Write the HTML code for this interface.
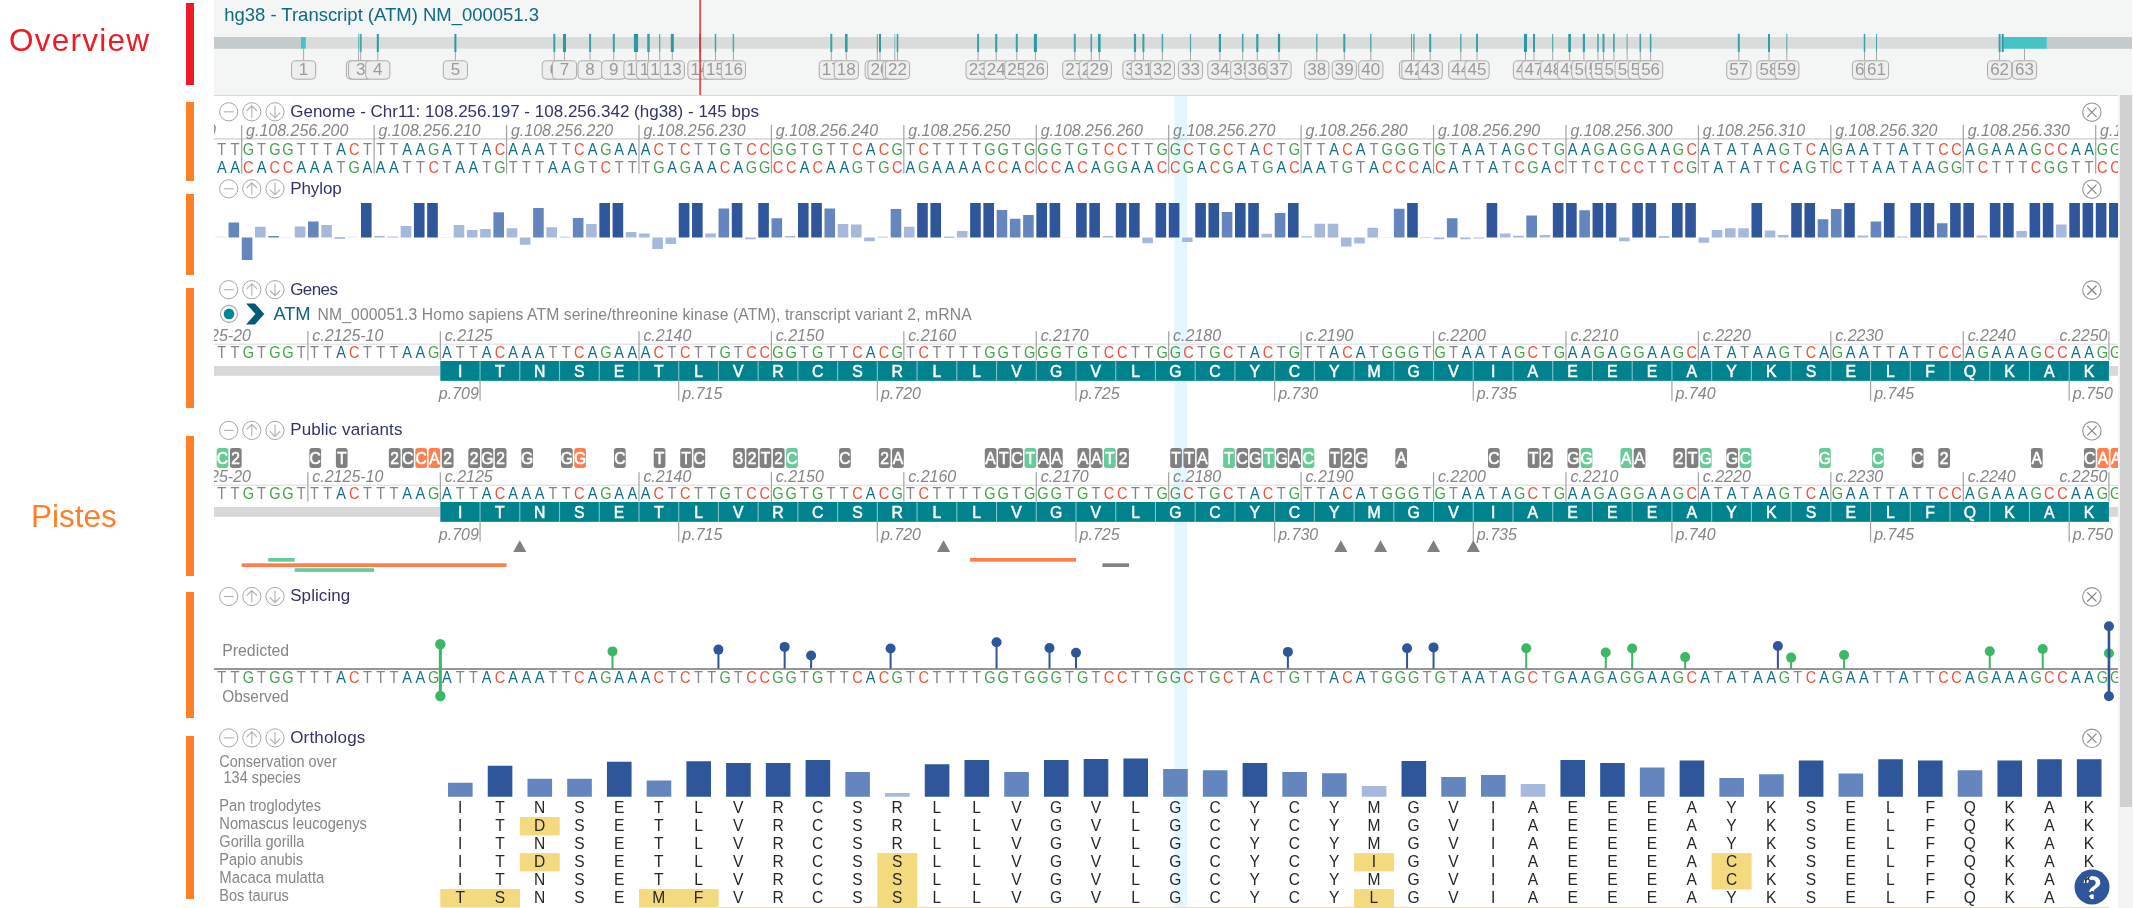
<!DOCTYPE html>
<html lang="en"><head><meta charset="utf-8"><title>Genome browser - ATM NM_000051.3</title>
<style>
html,body{margin:0;padding:0;background:#fff;}
body{width:2133px;height:908px;overflow:hidden;position:relative;font-family:"Liberation Sans",sans-serif;}
#left{position:absolute;left:0;top:0;width:214px;height:908px;background:#fff;}
#left .lab{position:absolute;font-size:31.5px;line-height:1;white-space:nowrap;will-change:transform;}
#left .bar{position:absolute;left:186.2px;width:7.7px;}
#ov{position:absolute;left:214px;top:0;width:1918px;height:95.5px;background:#f4f6f6;overflow:hidden;}
#ovb{position:absolute;left:214px;top:95px;width:1905px;height:1px;background:#d6d9d9;}
#tracks{position:absolute;left:214px;top:96px;width:1904.4px;height:812px;background:#fff;overflow:hidden;}
#sb{position:absolute;left:2118.4px;top:95px;width:14.6px;height:813px;background:#f4f4f4;}
#sb i{position:absolute;left:1.6px;top:0;width:11.9px;height:712.2px;background:#d1d1d1;display:block;}
svg{position:absolute;left:0;top:0;overflow:hidden;will-change:transform;}
svg text{font-family:"Liberation Sans",sans-serif;}
.nt{font-size:16.2px;text-anchor:middle;}
.bA{fill:#106e84;}.bC{fill:#f0523a;}.bG{fill:#43a24a;}.bT{fill:#848484;}
.tt{font-size:17px;fill:#33336b;}
.rl{font-size:16px;font-style:italic;fill:#858585;}
.ic circle{fill:#fff;stroke:#a6a6a6;stroke-width:1;}
.ic path{fill:none;stroke:#b0b0b0;stroke-width:1.1;}
.cl circle{stroke:#959595;stroke-width:1.15;}.cl path{stroke:#858585;stroke-width:1.2;}
.aa{font-size:15.8px;fill:#fff;stroke:#fff;stroke-width:.5px;text-anchor:middle;}
.vb{font-size:17px;fill:#fff;stroke:#fff;stroke-width:.6px;text-anchor:middle;}
.gl{font-size:17px;fill:#858585;}
.sm{font-size:15.6px;fill:#858585;}
.oa{font-size:15.6px;fill:#262626;text-anchor:middle;}
.ex{font-size:17px;fill:#9a9a9a;text-anchor:middle;}
.exb{fill:#eeeeee;stroke:#aaaaaa;stroke-width:1;}
</style></head><body>
<div id="left">
<div class="lab" style="left:9px;top:24.5px;color:#ed1c24;letter-spacing:1.25px;">Overview</div>
<div class="lab" style="left:31px;top:500.5px;color:#ff7f27;">Pistes</div>
<div class="bar" style="top:3px;height:81.5px;background:#ed1c24;"></div>
<div class="bar" style="top:102px;height:79px;background:#ff7f27;"></div>
<div class="bar" style="top:194px;height:81px;background:#ff7f27;"></div>
<div class="bar" style="top:288px;height:119.5px;background:#ff7f27;"></div>
<div class="bar" style="top:436px;height:139.5px;background:#ff7f27;"></div>
<div class="bar" style="top:592px;height:125.5px;background:#ff7f27;"></div>
<div class="bar" style="top:735.5px;height:163.5px;background:#ff7f27;"></div>
</div>
<div id="ov"><svg width="1919" height="95" viewBox="214 0 1919 95">
<text x="224.2" y="20.7" font-size="18.5" fill="#13677f" textLength="314.8" lengthAdjust="spacing">hg38 - Transcript (ATM) NM_000051.3</text>
<rect x="214" y="37" width="1918" height="11.7" fill="#dadcdc"/>
<rect x="214" y="37" width="87" height="11.7" fill="#c5cacd"/>
<rect x="2046.7" y="37" width="85.3" height="11.7" fill="#c5cacd"/>
<rect x="301" y="37" width="4.8" height="11.7" fill="#45c4c8"/>
<rect x="2003.5" y="37" width="43.2" height="11.7" fill="#45c4c8"/>
<rect x="303.1" y="48.7" width="1" height="11.6" fill="#a9a9a9"/>
<rect x="358" y="52" width="1" height="8.3" fill="#a9a9a9"/>
<rect x="358" y="34" width="1" height="18" fill="#2a99a4" fill-opacity="0.55"/>
<rect x="360.2" y="52" width="1" height="8.3" fill="#a9a9a9"/>
<rect x="359.7" y="34" width="2" height="18" fill="#2a99a4" fill-opacity="0.85"/>
<rect x="377.3" y="52" width="1" height="8.3" fill="#a9a9a9"/>
<rect x="376.8" y="34" width="2" height="18" fill="#2a99a4" fill-opacity="1"/>
<rect x="454.9" y="52" width="1" height="8.3" fill="#a9a9a9"/>
<rect x="454.4" y="34" width="2" height="18" fill="#2a99a4" fill-opacity="1"/>
<rect x="553.8" y="52" width="1" height="8.3" fill="#a9a9a9"/>
<rect x="553.3" y="34" width="2" height="18" fill="#2a99a4" fill-opacity="0.9"/>
<rect x="564" y="52" width="1" height="8.3" fill="#a9a9a9"/>
<rect x="563" y="34" width="3" height="18" fill="#2a99a4" fill-opacity="1"/>
<rect x="589.6" y="52" width="1" height="8.3" fill="#a9a9a9"/>
<rect x="589.1" y="34" width="2" height="18" fill="#2a99a4" fill-opacity="0.9"/>
<rect x="613.3" y="52" width="1" height="8.3" fill="#a9a9a9"/>
<rect x="612.8" y="34" width="2" height="18" fill="#2a99a4" fill-opacity="0.9"/>
<rect x="635.5" y="52" width="1" height="8.3" fill="#a9a9a9"/>
<rect x="633.9" y="34" width="4.2" height="18" fill="#2a99a4" fill-opacity="1"/>
<rect x="648" y="52" width="1" height="8.3" fill="#a9a9a9"/>
<rect x="647.2" y="34" width="2.6" height="18" fill="#2a99a4" fill-opacity="0.9"/>
<rect x="659.2" y="52" width="1" height="8.3" fill="#a9a9a9"/>
<rect x="659.15" y="34" width="1.1" height="18" fill="#2a99a4" fill-opacity="0.9"/>
<rect x="671.8" y="52" width="1" height="8.3" fill="#a9a9a9"/>
<rect x="670.8" y="34" width="3" height="18" fill="#2a99a4" fill-opacity="1"/>
<rect x="699.5" y="52" width="1" height="8.3" fill="#a9a9a9"/>
<rect x="699.25" y="34" width="1.5" height="18" fill="#2a99a4" fill-opacity="0.9"/>
<rect x="715" y="52" width="1" height="8.3" fill="#a9a9a9"/>
<rect x="714.75" y="34" width="1.5" height="18" fill="#2a99a4" fill-opacity="0.85"/>
<rect x="732.9" y="52" width="1" height="8.3" fill="#a9a9a9"/>
<rect x="732.65" y="34" width="1.5" height="18" fill="#2a99a4" fill-opacity="0.8"/>
<rect x="830.8" y="52" width="1" height="8.3" fill="#a9a9a9"/>
<rect x="830.3" y="34" width="2" height="18" fill="#2a99a4" fill-opacity="0.9"/>
<rect x="845.8" y="52" width="1" height="8.3" fill="#a9a9a9"/>
<rect x="845" y="34" width="2.6" height="18" fill="#2a99a4" fill-opacity="0.95"/>
<rect x="876.8" y="52" width="1" height="8.3" fill="#a9a9a9"/>
<rect x="876.8" y="34" width="1" height="18" fill="#2a99a4" fill-opacity="0.8"/>
<rect x="879.5" y="52" width="1" height="8.3" fill="#a9a9a9"/>
<rect x="879" y="34" width="2" height="18" fill="#2a99a4" fill-opacity="1"/>
<rect x="894.3" y="52" width="1" height="8.3" fill="#a9a9a9"/>
<rect x="894.3" y="34" width="1" height="18" fill="#2a99a4" fill-opacity="0.55"/>
<rect x="897" y="52" width="1" height="8.3" fill="#a9a9a9"/>
<rect x="896.7" y="34" width="1.6" height="18" fill="#2a99a4" fill-opacity="0.9"/>
<rect x="977.6" y="52" width="1" height="8.3" fill="#a9a9a9"/>
<rect x="977.1" y="34" width="2" height="18" fill="#2a99a4" fill-opacity="0.9"/>
<rect x="995.7" y="52" width="1" height="8.3" fill="#a9a9a9"/>
<rect x="995.1" y="34" width="2.2" height="18" fill="#2a99a4" fill-opacity="0.9"/>
<rect x="1016.3" y="52" width="1" height="8.3" fill="#a9a9a9"/>
<rect x="1015.8" y="34" width="2" height="18" fill="#2a99a4" fill-opacity="0.9"/>
<rect x="1034.9" y="52" width="1" height="8.3" fill="#a9a9a9"/>
<rect x="1033.9" y="34" width="3" height="18" fill="#2a99a4" fill-opacity="1"/>
<rect x="1074.3" y="52" width="1" height="8.3" fill="#a9a9a9"/>
<rect x="1073.8" y="34" width="2" height="18" fill="#2a99a4" fill-opacity="0.85"/>
<rect x="1090.8" y="52" width="1" height="8.3" fill="#a9a9a9"/>
<rect x="1090.5" y="34" width="1.6" height="18" fill="#2a99a4" fill-opacity="0.85"/>
<rect x="1098.8" y="52" width="1" height="8.3" fill="#a9a9a9"/>
<rect x="1098" y="34" width="2.6" height="18" fill="#2a99a4" fill-opacity="0.95"/>
<rect x="1134.5" y="52" width="1" height="8.3" fill="#a9a9a9"/>
<rect x="1133.9" y="34" width="2.2" height="18" fill="#2a99a4" fill-opacity="0.95"/>
<rect x="1142.9" y="52" width="1" height="8.3" fill="#a9a9a9"/>
<rect x="1142.4" y="34" width="2" height="18" fill="#2a99a4" fill-opacity="0.9"/>
<rect x="1161.9" y="52" width="1" height="8.3" fill="#a9a9a9"/>
<rect x="1161.65" y="34" width="1.5" height="18" fill="#2a99a4" fill-opacity="0.85"/>
<rect x="1190" y="52" width="1" height="8.3" fill="#a9a9a9"/>
<rect x="1189.9" y="34" width="1.2" height="18" fill="#2a99a4" fill-opacity="0.85"/>
<rect x="1219.4" y="52" width="1" height="8.3" fill="#a9a9a9"/>
<rect x="1218.8" y="34" width="2.2" height="18" fill="#2a99a4" fill-opacity="0.95"/>
<rect x="1242.2" y="52" width="1" height="8.3" fill="#a9a9a9"/>
<rect x="1241.9" y="34" width="1.6" height="18" fill="#2a99a4" fill-opacity="0.85"/>
<rect x="1256.8" y="52" width="1" height="8.3" fill="#a9a9a9"/>
<rect x="1256.2" y="34" width="2.2" height="18" fill="#2a99a4" fill-opacity="0.95"/>
<rect x="1278.5" y="52" width="1" height="8.3" fill="#a9a9a9"/>
<rect x="1277.9" y="34" width="2.2" height="18" fill="#2a99a4" fill-opacity="1"/>
<rect x="1316.3" y="52" width="1" height="8.3" fill="#a9a9a9"/>
<rect x="1316.05" y="34" width="1.5" height="18" fill="#2a99a4" fill-opacity="0.75"/>
<rect x="1343.8" y="52" width="1" height="8.3" fill="#a9a9a9"/>
<rect x="1343.3" y="34" width="2" height="18" fill="#2a99a4" fill-opacity="0.95"/>
<rect x="1370.3" y="52" width="1" height="8.3" fill="#a9a9a9"/>
<rect x="1370.1" y="34" width="1.4" height="18" fill="#2a99a4" fill-opacity="0.8"/>
<rect x="1411" y="52" width="1" height="8.3" fill="#a9a9a9"/>
<rect x="1411" y="34" width="1" height="18" fill="#2a99a4" fill-opacity="0.8"/>
<rect x="1413.4" y="52" width="1" height="8.3" fill="#a9a9a9"/>
<rect x="1413.2" y="34" width="1.4" height="18" fill="#2a99a4" fill-opacity="0.8"/>
<rect x="1429.7" y="52" width="1" height="8.3" fill="#a9a9a9"/>
<rect x="1429.2" y="34" width="2" height="18" fill="#2a99a4" fill-opacity="0.9"/>
<rect x="1460.3" y="52" width="1" height="8.3" fill="#a9a9a9"/>
<rect x="1460.05" y="34" width="1.5" height="18" fill="#2a99a4" fill-opacity="0.75"/>
<rect x="1476.5" y="52" width="1" height="8.3" fill="#a9a9a9"/>
<rect x="1476" y="34" width="2" height="18" fill="#2a99a4" fill-opacity="0.9"/>
<rect x="1525" y="52" width="1" height="8.3" fill="#a9a9a9"/>
<rect x="1524" y="34" width="3" height="18" fill="#2a99a4" fill-opacity="1"/>
<rect x="1533.5" y="52" width="1" height="8.3" fill="#a9a9a9"/>
<rect x="1533" y="34" width="2" height="18" fill="#2a99a4" fill-opacity="0.95"/>
<rect x="1552.2" y="52" width="1" height="8.3" fill="#a9a9a9"/>
<rect x="1552.15" y="34" width="1.1" height="18" fill="#2a99a4" fill-opacity="0.85"/>
<rect x="1569.1" y="52" width="1" height="8.3" fill="#a9a9a9"/>
<rect x="1568.3" y="34" width="2.6" height="18" fill="#2a99a4" fill-opacity="1"/>
<rect x="1583.4" y="52" width="1" height="8.3" fill="#a9a9a9"/>
<rect x="1582.8" y="34" width="2.2" height="18" fill="#2a99a4" fill-opacity="0.95"/>
<rect x="1597.5" y="52" width="1" height="8.3" fill="#a9a9a9"/>
<rect x="1597.2" y="34" width="1.6" height="18" fill="#2a99a4" fill-opacity="0.8"/>
<rect x="1603" y="52" width="1" height="8.3" fill="#a9a9a9"/>
<rect x="1602.5" y="34" width="2" height="18" fill="#2a99a4" fill-opacity="0.9"/>
<rect x="1613.4" y="52" width="1" height="8.3" fill="#a9a9a9"/>
<rect x="1613.1" y="34" width="1.6" height="18" fill="#2a99a4" fill-opacity="0.9"/>
<rect x="1626.6" y="52" width="1" height="8.3" fill="#a9a9a9"/>
<rect x="1626.5" y="34" width="1.2" height="18" fill="#2a99a4" fill-opacity="0.65"/>
<rect x="1639.8" y="52" width="1" height="8.3" fill="#a9a9a9"/>
<rect x="1639.5" y="34" width="1.6" height="18" fill="#2a99a4" fill-opacity="0.85"/>
<rect x="1650.1" y="52" width="1" height="8.3" fill="#a9a9a9"/>
<rect x="1649.85" y="34" width="1.5" height="18" fill="#2a99a4" fill-opacity="0.9"/>
<rect x="1738.3" y="52" width="1" height="8.3" fill="#a9a9a9"/>
<rect x="1737.8" y="34" width="2" height="18" fill="#2a99a4" fill-opacity="0.9"/>
<rect x="1768.5" y="52" width="1" height="8.3" fill="#a9a9a9"/>
<rect x="1768" y="34" width="2" height="18" fill="#2a99a4" fill-opacity="0.95"/>
<rect x="1786.3" y="52" width="1" height="8.3" fill="#a9a9a9"/>
<rect x="1786.2" y="34" width="1.2" height="18" fill="#2a99a4" fill-opacity="0.7"/>
<rect x="1864" y="52" width="1" height="8.3" fill="#a9a9a9"/>
<rect x="1863.75" y="34" width="1.5" height="18" fill="#2a99a4" fill-opacity="0.9"/>
<rect x="1876" y="52" width="1" height="8.3" fill="#a9a9a9"/>
<rect x="1876" y="34" width="1" height="18" fill="#2a99a4" fill-opacity="0.85"/>
<rect x="1999.1" y="52" width="1" height="8.3" fill="#a9a9a9"/>
<rect x="1998.6" y="34" width="2" height="18" fill="#2a99a4" fill-opacity="0.9"/>
<rect x="2024" y="48.7" width="1" height="11.6" fill="#a9a9a9"/>
<rect x="2001.7" y="34" width="2" height="18" fill="#2a99a4" fill-opacity="1"/>
<rect class="exb" x="291.5" y="60.8" width="24.2" height="18.4" rx="4"/><text class="ex" x="303.6" y="75.4">1</text>
<rect class="exb" x="346.4" y="60.8" width="24.2" height="18.4" rx="4"/><text class="ex" x="358.5" y="75.4">2</text>
<rect class="exb" x="348.6" y="60.8" width="24.2" height="18.4" rx="4"/><text class="ex" x="360.7" y="75.4">3</text>
<rect class="exb" x="365.7" y="60.8" width="24.2" height="18.4" rx="4"/><text class="ex" x="377.8" y="75.4">4</text>
<rect class="exb" x="443.3" y="60.8" width="24.2" height="18.4" rx="4"/><text class="ex" x="455.4" y="75.4">5</text>
<rect class="exb" x="542.2" y="60.8" width="24.2" height="18.4" rx="4"/><text class="ex" x="554.3" y="75.4">6</text>
<rect class="exb" x="552.4" y="60.8" width="24.2" height="18.4" rx="4"/><text class="ex" x="564.5" y="75.4">7</text>
<rect class="exb" x="578" y="60.8" width="24.2" height="18.4" rx="4"/><text class="ex" x="590.1" y="75.4">8</text>
<rect class="exb" x="601.7" y="60.8" width="24.2" height="18.4" rx="4"/><text class="ex" x="613.8" y="75.4">9</text>
<rect class="exb" x="623.9" y="60.8" width="24.2" height="18.4" rx="4"/><text class="ex" x="636" y="75.4">10</text>
<rect class="exb" x="636.4" y="60.8" width="24.2" height="18.4" rx="4"/><text class="ex" x="648.5" y="75.4">11</text>
<rect class="exb" x="647.6" y="60.8" width="24.2" height="18.4" rx="4"/><text class="ex" x="659.7" y="75.4">12</text>
<rect class="exb" x="660.2" y="60.8" width="24.2" height="18.4" rx="4"/><text class="ex" x="672.3" y="75.4">13</text>
<rect class="exb" x="687.9" y="60.8" width="24.2" height="18.4" rx="4"/><text class="ex" x="700" y="75.4">14</text>
<rect class="exb" x="703.4" y="60.8" width="24.2" height="18.4" rx="4"/><text class="ex" x="715.5" y="75.4">15</text>
<rect class="exb" x="721.3" y="60.8" width="24.2" height="18.4" rx="4"/><text class="ex" x="733.4" y="75.4">16</text>
<rect class="exb" x="819.2" y="60.8" width="24.2" height="18.4" rx="4"/><text class="ex" x="831.3" y="75.4">17</text>
<rect class="exb" x="834.2" y="60.8" width="24.2" height="18.4" rx="4"/><text class="ex" x="846.3" y="75.4">18</text>
<rect class="exb" x="865.2" y="60.8" width="24.2" height="18.4" rx="4"/><text class="ex" x="877.3" y="75.4">19</text>
<rect class="exb" x="867.9" y="60.8" width="24.2" height="18.4" rx="4"/><text class="ex" x="880" y="75.4">20</text>
<rect class="exb" x="882.7" y="60.8" width="24.2" height="18.4" rx="4"/><text class="ex" x="894.8" y="75.4">21</text>
<rect class="exb" x="885.4" y="60.8" width="24.2" height="18.4" rx="4"/><text class="ex" x="897.5" y="75.4">22</text>
<rect class="exb" x="966" y="60.8" width="24.2" height="18.4" rx="4"/><text class="ex" x="978.1" y="75.4">23</text>
<rect class="exb" x="984.1" y="60.8" width="24.2" height="18.4" rx="4"/><text class="ex" x="996.2" y="75.4">24</text>
<rect class="exb" x="1004.7" y="60.8" width="24.2" height="18.4" rx="4"/><text class="ex" x="1016.8" y="75.4">25</text>
<rect class="exb" x="1023.3" y="60.8" width="24.2" height="18.4" rx="4"/><text class="ex" x="1035.4" y="75.4">26</text>
<rect class="exb" x="1062.7" y="60.8" width="24.2" height="18.4" rx="4"/><text class="ex" x="1074.8" y="75.4">27</text>
<rect class="exb" x="1079.2" y="60.8" width="24.2" height="18.4" rx="4"/><text class="ex" x="1091.3" y="75.4">28</text>
<rect class="exb" x="1087.2" y="60.8" width="24.2" height="18.4" rx="4"/><text class="ex" x="1099.3" y="75.4">29</text>
<rect class="exb" x="1122.9" y="60.8" width="24.2" height="18.4" rx="4"/><text class="ex" x="1135" y="75.4">30</text>
<rect class="exb" x="1131.3" y="60.8" width="24.2" height="18.4" rx="4"/><text class="ex" x="1143.4" y="75.4">31</text>
<rect class="exb" x="1150.3" y="60.8" width="24.2" height="18.4" rx="4"/><text class="ex" x="1162.4" y="75.4">32</text>
<rect class="exb" x="1178.4" y="60.8" width="24.2" height="18.4" rx="4"/><text class="ex" x="1190.5" y="75.4">33</text>
<rect class="exb" x="1207.8" y="60.8" width="24.2" height="18.4" rx="4"/><text class="ex" x="1219.9" y="75.4">34</text>
<rect class="exb" x="1230.6" y="60.8" width="24.2" height="18.4" rx="4"/><text class="ex" x="1242.7" y="75.4">35</text>
<rect class="exb" x="1245.2" y="60.8" width="24.2" height="18.4" rx="4"/><text class="ex" x="1257.3" y="75.4">36</text>
<rect class="exb" x="1266.9" y="60.8" width="24.2" height="18.4" rx="4"/><text class="ex" x="1279" y="75.4">37</text>
<rect class="exb" x="1304.7" y="60.8" width="24.2" height="18.4" rx="4"/><text class="ex" x="1316.8" y="75.4">38</text>
<rect class="exb" x="1332.2" y="60.8" width="24.2" height="18.4" rx="4"/><text class="ex" x="1344.3" y="75.4">39</text>
<rect class="exb" x="1358.7" y="60.8" width="24.2" height="18.4" rx="4"/><text class="ex" x="1370.8" y="75.4">40</text>
<rect class="exb" x="1399.4" y="60.8" width="24.2" height="18.4" rx="4"/><text class="ex" x="1411.5" y="75.4">41</text>
<rect class="exb" x="1401.8" y="60.8" width="24.2" height="18.4" rx="4"/><text class="ex" x="1413.9" y="75.4">42</text>
<rect class="exb" x="1418.1" y="60.8" width="24.2" height="18.4" rx="4"/><text class="ex" x="1430.2" y="75.4">43</text>
<rect class="exb" x="1448.7" y="60.8" width="24.2" height="18.4" rx="4"/><text class="ex" x="1460.8" y="75.4">44</text>
<rect class="exb" x="1464.9" y="60.8" width="24.2" height="18.4" rx="4"/><text class="ex" x="1477" y="75.4">45</text>
<rect class="exb" x="1513.4" y="60.8" width="24.2" height="18.4" rx="4"/><text class="ex" x="1525.5" y="75.4">46</text>
<rect class="exb" x="1521.9" y="60.8" width="24.2" height="18.4" rx="4"/><text class="ex" x="1534" y="75.4">47</text>
<rect class="exb" x="1540.6" y="60.8" width="24.2" height="18.4" rx="4"/><text class="ex" x="1552.7" y="75.4">48</text>
<rect class="exb" x="1557.5" y="60.8" width="24.2" height="18.4" rx="4"/><text class="ex" x="1569.6" y="75.4">49</text>
<rect class="exb" x="1571.8" y="60.8" width="24.2" height="18.4" rx="4"/><text class="ex" x="1583.9" y="75.4">50</text>
<rect class="exb" x="1585.9" y="60.8" width="24.2" height="18.4" rx="4"/><text class="ex" x="1598" y="75.4">51</text>
<rect class="exb" x="1591.4" y="60.8" width="24.2" height="18.4" rx="4"/><text class="ex" x="1603.5" y="75.4">52</text>
<rect class="exb" x="1601.8" y="60.8" width="24.2" height="18.4" rx="4"/><text class="ex" x="1613.9" y="75.4">53</text>
<rect class="exb" x="1615" y="60.8" width="24.2" height="18.4" rx="4"/><text class="ex" x="1627.1" y="75.4">54</text>
<rect class="exb" x="1628.2" y="60.8" width="24.2" height="18.4" rx="4"/><text class="ex" x="1640.3" y="75.4">55</text>
<rect class="exb" x="1638.5" y="60.8" width="24.2" height="18.4" rx="4"/><text class="ex" x="1650.6" y="75.4">56</text>
<rect class="exb" x="1726.7" y="60.8" width="24.2" height="18.4" rx="4"/><text class="ex" x="1738.8" y="75.4">57</text>
<rect class="exb" x="1756.9" y="60.8" width="24.2" height="18.4" rx="4"/><text class="ex" x="1769" y="75.4">58</text>
<rect class="exb" x="1774.7" y="60.8" width="24.2" height="18.4" rx="4"/><text class="ex" x="1786.8" y="75.4">59</text>
<rect class="exb" x="1852.4" y="60.8" width="24.2" height="18.4" rx="4"/><text class="ex" x="1864.5" y="75.4">60</text>
<rect class="exb" x="1864.4" y="60.8" width="24.2" height="18.4" rx="4"/><text class="ex" x="1876.5" y="75.4">61</text>
<rect class="exb" x="1987.5" y="60.8" width="24.2" height="18.4" rx="4"/><text class="ex" x="1999.6" y="75.4">62</text>
<rect class="exb" x="2012.4" y="60.8" width="24.2" height="18.4" rx="4"/><text class="ex" x="2024.5" y="75.4">63</text>
<rect x="699.4" y="0" width="1.4" height="95" fill="#ee1c1c"/>
</svg></div>
<div id="ovb"></div>
<div id="tracks"><svg width="1904.4" height="812" viewBox="214 96 1904.4 812">
<rect x="1174.2" y="96" width="13" height="812" fill="#e5f7fe"/>
<g transform="translate(228.7 111.8)" class="ic"><circle r="9.1"/>
<path d="M-5 0H5"/>
</g>
<g transform="translate(251.8 111.8)" class="ic"><circle r="9.1"/>
<path d="M0 6V-6M-5.2 -0.8L0 -6L5.2 -0.8"/>
</g>
<g transform="translate(275 111.8)" class="ic"><circle r="9.1"/>
<path d="M0 -6V6M-5.2 0.8L0 6L5.2 0.8"/>
</g>
<text class="tt" x="290.2" y="116.7" textLength="468.7" lengthAdjust="spacing">Genome - Chr11: 108.256.197 - 108.256.342 (hg38) - 145 bps</text>
<g transform="translate(2091.9 112.2)" class="ic cl"><circle r="9.2"/><path d="M-4.6 -4.6L4.6 4.6M4.6 -4.6L-4.6 4.6"/></g>
<rect x="214" y="138.25" width="1905" height="1.3" fill="#cfcfcf"/>
<rect x="108.66" y="125" width="1.2" height="48.6" fill="#a2a2a2"/>
<text class="rl" x="113.66" y="136.1">g.108.256.190</text>
<rect x="241.09" y="125" width="1.2" height="48.6" fill="#a2a2a2"/>
<text class="rl" x="246.09" y="136.1">g.108.256.200</text>
<rect x="373.52" y="125" width="1.2" height="48.6" fill="#a2a2a2"/>
<text class="rl" x="378.52" y="136.1">g.108.256.210</text>
<rect x="505.95" y="125" width="1.2" height="48.6" fill="#a2a2a2"/>
<text class="rl" x="510.95" y="136.1">g.108.256.220</text>
<rect x="638.38" y="125" width="1.2" height="48.6" fill="#a2a2a2"/>
<text class="rl" x="643.38" y="136.1">g.108.256.230</text>
<rect x="770.81" y="125" width="1.2" height="48.6" fill="#a2a2a2"/>
<text class="rl" x="775.81" y="136.1">g.108.256.240</text>
<rect x="903.24" y="125" width="1.2" height="48.6" fill="#a2a2a2"/>
<text class="rl" x="908.24" y="136.1">g.108.256.250</text>
<rect x="1035.67" y="125" width="1.2" height="48.6" fill="#a2a2a2"/>
<text class="rl" x="1040.67" y="136.1">g.108.256.260</text>
<rect x="1168.1" y="125" width="1.2" height="48.6" fill="#a2a2a2"/>
<text class="rl" x="1173.1" y="136.1">g.108.256.270</text>
<rect x="1300.53" y="125" width="1.2" height="48.6" fill="#a2a2a2"/>
<text class="rl" x="1305.53" y="136.1">g.108.256.280</text>
<rect x="1432.96" y="125" width="1.2" height="48.6" fill="#a2a2a2"/>
<text class="rl" x="1437.96" y="136.1">g.108.256.290</text>
<rect x="1565.39" y="125" width="1.2" height="48.6" fill="#a2a2a2"/>
<text class="rl" x="1570.39" y="136.1">g.108.256.300</text>
<rect x="1697.82" y="125" width="1.2" height="48.6" fill="#a2a2a2"/>
<text class="rl" x="1702.82" y="136.1">g.108.256.310</text>
<rect x="1830.25" y="125" width="1.2" height="48.6" fill="#a2a2a2"/>
<text class="rl" x="1835.25" y="136.1">g.108.256.320</text>
<rect x="1962.68" y="125" width="1.2" height="48.6" fill="#a2a2a2"/>
<text class="rl" x="1967.68" y="136.1">g.108.256.330</text>
<rect x="2095.11" y="125" width="1.2" height="48.6" fill="#a2a2a2"/>
<text class="rl" x="2100.11" y="136.1">g.108.256.340</text>
<text class="nt bA" transform="scale(.9 1)" y="154.7" x="378.9 452.47 467.19 496.61 540.76 570.19 584.9 599.61 658.47 687.9 702.62 717.33 967.48 1394.19 1482.48 1511.91 1629.63 1644.34 1673.77 1747.34 1762.06 1791.49 1835.63 1850.34 1894.49 1923.91 1953.34 1968.06 2026.92 2056.35 2071.06 2115.2 2188.78 2218.2 2232.92 2247.63 2306.49 2321.21">AAAAAAAAAAAAAAAAAAAAAAAAAAAAAAAAAAAAAA</text>
<text class="nt bC" transform="scale(.9 1)" y="154.7" x="393.61 555.47 643.76 732.04 761.47 835.05 849.76 952.76 982.19 1026.33 1232.34 1247.05 1320.62 1364.77 1408.91 1497.2 1703.2 1879.77 2012.2 2159.35 2174.06 2277.06 2291.78">CCCCCCCCCCCCCCCCCCCCCCC</text>
<text class="nt bG" transform="scale(.9 1)" y="154.7" x="275.9 305.33 320.04 481.9 673.19 805.62 864.47 879.19 908.62 996.9 1099.91 1114.62 1144.05 1158.76 1173.48 1202.91 1291.19 1305.91 1350.05 1438.34 1541.34 1556.05 1570.77 1600.2 1688.48 1732.63 1776.77 1806.2 1820.91 1865.06 1982.77 2041.63 2203.49 2262.35 2335.92 2350.63">GGGGGGGGGGGGGGGGGGGGGGGGGGGGGGGGGGGG</text>
<text class="nt bT" transform="scale(.9 1)" y="154.7" x="246.47 261.18 290.61 334.76 349.47 364.18 408.33 423.04 437.76 511.33 526.04 614.33 629.04 746.76 776.19 790.9 820.33 893.9 923.33 938.05 1011.62 1041.05 1055.76 1070.48 1085.19 1129.33 1188.19 1217.62 1261.77 1276.48 1335.34 1379.48 1423.62 1453.05 1467.77 1526.62 1585.48 1614.91 1659.05 1717.91 1909.2 1938.63 1997.49 2085.77 2100.49 2129.92 2144.63">TTTTTTTTTTTTTTTTTTTTTTTTTTTTTTTTTTTTTTTTTTTTTTT</text>
<text class="nt bA" transform="scale(.9 1)" y="172.7" x="246.47 261.18 290.61 334.76 349.47 364.18 408.33 423.04 437.76 511.33 526.04 614.33 629.04 746.76 776.19 790.9 820.33 893.9 923.33 938.05 1011.62 1041.05 1055.76 1070.48 1085.19 1129.33 1188.19 1217.62 1261.77 1276.48 1335.34 1379.48 1423.62 1453.05 1467.77 1526.62 1585.48 1614.91 1659.05 1717.91 1909.2 1938.63 1997.49 2085.77 2100.49 2129.92 2144.63">AAAAAAAAAAAAAAAAAAAAAAAAAAAAAAAAAAAAAAAAAAAAAAA</text>
<text class="nt bC" transform="scale(.9 1)" y="172.7" x="275.9 305.33 320.04 481.9 673.19 805.62 864.47 879.19 908.62 996.9 1099.91 1114.62 1144.05 1158.76 1173.48 1202.91 1291.19 1305.91 1350.05 1438.34 1541.34 1556.05 1570.77 1600.2 1688.48 1732.63 1776.77 1806.2 1820.91 1865.06 1982.77 2041.63 2203.49 2262.35 2335.92 2350.63">CCCCCCCCCCCCCCCCCCCCCCCCCCCCCCCCCCCC</text>
<text class="nt bG" transform="scale(.9 1)" y="172.7" x="393.61 555.47 643.76 732.04 761.47 835.05 849.76 952.76 982.19 1026.33 1232.34 1247.05 1320.62 1364.77 1408.91 1497.2 1703.2 1879.77 2012.2 2159.35 2174.06 2277.06 2291.78">GGGGGGGGGGGGGGGGGGGGGGG</text>
<text class="nt bT" transform="scale(.9 1)" y="172.7" x="378.9 452.47 467.19 496.61 540.76 570.19 584.9 599.61 658.47 687.9 702.62 717.33 967.48 1394.19 1482.48 1511.91 1629.63 1644.34 1673.77 1747.34 1762.06 1791.49 1835.63 1850.34 1894.49 1923.91 1953.34 1968.06 2026.92 2056.35 2071.06 2115.2 2188.78 2218.2 2232.92 2247.63 2306.49 2321.21">TTTTTTTTTTTTTTTTTTTTTTTTTTTTTTTTTTTTTT</text>
<g transform="translate(228.7 188.8)" class="ic"><circle r="9.1"/>
<path d="M-5 0H5"/>
</g>
<g transform="translate(251.8 188.8)" class="ic"><circle r="9.1"/>
<path d="M0 6V-6M-5.2 -0.8L0 -6L5.2 -0.8"/>
</g>
<g transform="translate(275 188.8)" class="ic"><circle r="9.1"/>
<path d="M0 -6V6M-5.2 0.8L0 6L5.2 0.8"/>
</g>
<text class="tt" x="290.2" y="193.7" textLength="51.6" lengthAdjust="spacing">Phylop</text>
<g transform="translate(2091.9 189.2)" class="ic cl"><circle r="9.2"/><path d="M-4.6 -4.6L4.6 4.6M4.6 -4.6L-4.6 4.6"/></g>
<path fill="#2f559b" d="M360.97 203h10.6v34.4h-10.6zM413.95 203h10.6v34.4h-10.6zM427.19 203h10.6v34.4h-10.6zM599.35 203h10.6v34.4h-10.6zM612.59 203h10.6v34.4h-10.6zM678.8 203h10.6v34.4h-10.6zM692.05 203h10.6v34.4h-10.6zM731.78 203h10.6v34.4h-10.6zM758.26 203h10.6v34.4h-10.6zM797.99 203h10.6v34.4h-10.6zM811.24 203h10.6v34.4h-10.6zM917.18 203h10.6v34.4h-10.6zM930.42 203h10.6v34.4h-10.6zM970.15 203h10.6v34.4h-10.6zM983.39 203h10.6v34.4h-10.6zM1036.37 203h10.6v34.4h-10.6zM1049.61 203h10.6v34.4h-10.6zM1076.1 203h10.6v34.4h-10.6zM1089.34 203h10.6v34.4h-10.6zM1115.82 203h10.6v34.4h-10.6zM1129.07 203h10.6v34.4h-10.6zM1155.55 203h10.6v34.4h-10.6zM1168.8 203h10.6v34.4h-10.6zM1195.28 203h10.6v34.4h-10.6zM1208.52 203h10.6v34.4h-10.6zM1235.01 203h10.6v34.4h-10.6zM1248.25 203h10.6v34.4h-10.6zM1287.98 203h10.6v34.4h-10.6zM1407.17 203h10.6v34.4h-10.6zM1486.63 203h10.6v34.4h-10.6zM1552.84 203h10.6v34.4h-10.6zM1566.09 203h10.6v34.4h-10.6zM1592.57 203h10.6v34.4h-10.6zM1605.82 203h10.6v34.4h-10.6zM1632.3 203h10.6v34.4h-10.6zM1645.54 203h10.6v34.4h-10.6zM1672.03 203h10.6v34.4h-10.6zM1685.27 203h10.6v34.4h-10.6zM1751.49 203h10.6v34.4h-10.6zM1791.22 203h10.6v34.4h-10.6zM1804.46 203h10.6v34.4h-10.6zM1844.19 203h10.6v34.4h-10.6zM1883.92 203h10.6v34.4h-10.6zM1910.4 203h10.6v34.4h-10.6zM1923.65 203h10.6v34.4h-10.6zM1950.13 203h10.6v34.4h-10.6zM1963.38 203h10.6v34.4h-10.6zM1989.86 203h10.6v34.4h-10.6zM2003.11 203h10.6v34.4h-10.6zM2029.59 203h10.6v34.4h-10.6zM2042.83 203h10.6v34.4h-10.6zM2069.32 203h10.6v34.4h-10.6zM2082.56 203h10.6v34.4h-10.6zM2095.81 203h10.6v34.4h-10.6zM2109.05 203h10.6v34.4h-10.6z"/>
<path fill="#6585be" d="M228.54 222.4h10.6v15h-10.6zM241.79 237.4h10.6v22.5h-10.6zM268.27 236h10.6v1.4h-10.6zM308 221.6h10.6v15.8h-10.6zM334.49 237.4h10.6v1.1h-10.6zM493.4 212.2h10.6v25.2h-10.6zM533.13 208.1h10.6v29.3h-10.6zM572.86 218h10.6v19.4h-10.6zM718.53 208.6h10.6v28.8h-10.6zM771.51 218.3h10.6v19.1h-10.6zM824.48 208.4h10.6v29h-10.6zM890.69 209h10.6v28.4h-10.6zM943.67 236.8h10.6v0.6h-10.6zM996.64 209.9h10.6v27.5h-10.6zM1009.88 218.7h10.6v18.7h-10.6zM1023.12 215.1h10.6v22.3h-10.6zM1221.77 212h10.6v25.4h-10.6zM1274.74 213.1h10.6v24.3h-10.6zM1393.93 208.8h10.6v28.6h-10.6zM1446.9 218.3h10.6v19.1h-10.6zM1526.36 215.4h10.6v22h-10.6zM1579.33 210.2h10.6v27.2h-10.6zM1658.79 236.6h10.6v0.8h-10.6zM1817.7 219.2h10.6v18.2h-10.6zM1830.95 209h10.6v28.4h-10.6zM1870.67 221.4h10.6v16h-10.6zM1936.89 223.2h10.6v14.2h-10.6z"/>
<path fill="#a6b9dd" d="M255.03 226.8h10.6v10.6h-10.6zM294.76 226.6h10.6v10.8h-10.6zM321.24 225h10.6v12.4h-10.6zM374.22 236h10.6v1.4h-10.6zM387.46 236.4h10.6v1h-10.6zM400.7 225.9h10.6v11.5h-10.6zM453.67 225h10.6v12.4h-10.6zM466.92 230h10.6v7.4h-10.6zM480.16 229.1h10.6v8.3h-10.6zM506.65 228.2h10.6v9.2h-10.6zM519.89 237.4h10.6v7.4h-10.6zM546.38 227.3h10.6v10.1h-10.6zM559.62 236.7h10.6v0.7h-10.6zM586.1 224.1h10.6v13.3h-10.6zM625.83 232h10.6v5.4h-10.6zM639.08 233.4h10.6v4h-10.6zM652.32 237.4h10.6v11.7h-10.6zM665.56 237.4h10.6v6.5h-10.6zM705.29 233.4h10.6v4h-10.6zM745.02 237.4h10.6v1.8h-10.6zM784.75 236h10.6v1.4h-10.6zM837.72 223.9h10.6v13.5h-10.6zM850.96 224.6h10.6v12.8h-10.6zM864.21 237.4h10.6v3.8h-10.6zM877.45 236.7h10.6v0.7h-10.6zM903.94 226.8h10.6v10.6h-10.6zM956.91 231.1h10.6v6.3h-10.6zM1102.58 236h10.6v1.4h-10.6zM1142.31 237.4h10.6v5.9h-10.6zM1182.04 237.4h10.6v4.5h-10.6zM1261.5 233.8h10.6v3.6h-10.6zM1301.23 236.3h10.6v1.1h-10.6zM1314.47 223.7h10.6v13.7h-10.6zM1327.71 223.7h10.6v13.7h-10.6zM1340.95 237.4h10.6v9h-10.6zM1354.2 237.4h10.6v6.1h-10.6zM1367.44 227.7h10.6v9.7h-10.6zM1420.41 237.4h10.6v0.6h-10.6zM1433.66 237.4h10.6v1.8h-10.6zM1460.14 237.4h10.6v1.8h-10.6zM1473.38 237.4h10.6v1h-10.6zM1499.87 233.6h10.6v3.8h-10.6zM1513.11 235.8h10.6v1.6h-10.6zM1539.6 234.9h10.6v2.5h-10.6zM1619.06 237.4h10.6v3.8h-10.6zM1698.52 237.4h10.6v5.4h-10.6zM1711.76 230h10.6v7.4h-10.6zM1725 228.2h10.6v9.2h-10.6zM1738.24 228.2h10.6v9.2h-10.6zM1764.73 230.6h10.6v6.8h-10.6zM1777.97 235.1h10.6v2.3h-10.6zM1857.43 235.4h10.6v2h-10.6zM1897.16 236.4h10.6v1h-10.6zM1976.62 235.4h10.6v2h-10.6zM2016.35 231.1h10.6v6.3h-10.6zM2056.08 224.4h10.6v13h-10.6z"/>
<path fill="#dbe3f2" d="M215.3 236.6h10.6v0.8h-10.6zM281.51 236.9h10.6v0.5h-10.6zM347.73 236.8h10.6v0.6h-10.6zM440.43 236.9h10.6v0.5h-10.6zM1062.85 237h10.6v0.4h-10.6zM1380.68 237h10.6v0.4h-10.6z"/>
<g transform="translate(228.7 289.7)" class="ic"><circle r="9.1"/>
<path d="M-5 0H5"/>
</g>
<g transform="translate(251.8 289.7)" class="ic"><circle r="9.1"/>
<path d="M0 6V-6M-5.2 -0.8L0 -6L5.2 -0.8"/>
</g>
<g transform="translate(275 289.7)" class="ic"><circle r="9.1"/>
<path d="M0 -6V6M-5.2 0.8L0 6L5.2 0.8"/>
</g>
<text class="tt" x="290.2" y="294.6" textLength="47.8" lengthAdjust="spacing">Genes</text>
<g transform="translate(2091.9 290.1)" class="ic cl"><circle r="9.2"/><path d="M-4.6 -4.6L4.6 4.6M4.6 -4.6L-4.6 4.6"/></g>
<circle cx="229" cy="313.9" r="8.5" fill="#fff" stroke="#a6a6a6" stroke-width="1.1"/><circle cx="229" cy="313.9" r="5.3" fill="#00868e"/>
<path d="M246.1 303.6H254.9L264.3 313.9L254.9 324.4H246.1L255.4 313.9Z" fill="#005a78"/>
<text x="273.4" y="320.4" font-size="19" fill="#0b6482" textLength="37.2" lengthAdjust="spacingAndGlyphs">ATM</text>
<text x="317.6" y="320" font-size="15.7" fill="#858585" textLength="654" lengthAdjust="spacing">NM_000051.3 Homo sapiens ATM serine/threonine kinase (ATM), transcript variant 2, mRNA</text>
<rect x="214" y="343.55" width="1905" height="1.3" fill="#e2e2e2"/>
<rect x="174.87" y="331.2" width="1.2" height="29.3" fill="#a2a2a2"/>
<text class="rl" x="179.87" y="340.6">c.2125-20</text>
<rect x="307.3" y="331.2" width="1.2" height="29.3" fill="#a2a2a2"/>
<text class="rl" x="312.3" y="340.6">c.2125-10</text>
<rect x="439.73" y="331.2" width="1.2" height="29.3" fill="#a2a2a2"/>
<text class="rl" x="444.73" y="340.6">c.2125</text>
<rect x="638.38" y="331.2" width="1.2" height="29.3" fill="#a2a2a2"/>
<text class="rl" x="643.38" y="340.6">c.2140</text>
<rect x="770.81" y="331.2" width="1.2" height="29.3" fill="#a2a2a2"/>
<text class="rl" x="775.81" y="340.6">c.2150</text>
<rect x="903.24" y="331.2" width="1.2" height="29.3" fill="#a2a2a2"/>
<text class="rl" x="908.24" y="340.6">c.2160</text>
<rect x="1035.67" y="331.2" width="1.2" height="29.3" fill="#a2a2a2"/>
<text class="rl" x="1040.67" y="340.6">c.2170</text>
<rect x="1168.1" y="331.2" width="1.2" height="29.3" fill="#a2a2a2"/>
<text class="rl" x="1173.1" y="340.6">c.2180</text>
<rect x="1300.53" y="331.2" width="1.2" height="29.3" fill="#a2a2a2"/>
<text class="rl" x="1305.53" y="340.6">c.2190</text>
<rect x="1432.96" y="331.2" width="1.2" height="29.3" fill="#a2a2a2"/>
<text class="rl" x="1437.96" y="340.6">c.2200</text>
<rect x="1565.39" y="331.2" width="1.2" height="29.3" fill="#a2a2a2"/>
<text class="rl" x="1570.39" y="340.6">c.2210</text>
<rect x="1697.82" y="331.2" width="1.2" height="29.3" fill="#a2a2a2"/>
<text class="rl" x="1702.82" y="340.6">c.2220</text>
<rect x="1830.25" y="331.2" width="1.2" height="29.3" fill="#a2a2a2"/>
<text class="rl" x="1835.25" y="340.6">c.2230</text>
<rect x="1962.68" y="331.2" width="1.2" height="29.3" fill="#a2a2a2"/>
<text class="rl" x="1967.68" y="340.6">c.2240</text>
<rect x="2108.35" y="331.2" width="1.2" height="29.3" fill="#a2a2a2"/>
<text class="rl" text-anchor="end" x="2107.45" y="340.6">c.2250</text>
<text class="nt bA" transform="scale(.9 1)" y="357.9" x="378.9 452.47 467.19 496.61 540.76 570.19 584.9 599.61 658.47 687.9 702.62 717.33 967.48 1394.19 1482.48 1511.91 1629.63 1644.34 1673.77 1747.34 1762.06 1791.49 1835.63 1850.34 1894.49 1923.91 1953.34 1968.06 2026.92 2056.35 2071.06 2115.2 2188.78 2218.2 2232.92 2247.63 2306.49 2321.21">AAAAAAAAAAAAAAAAAAAAAAAAAAAAAAAAAAAAAA</text>
<text class="nt bC" transform="scale(.9 1)" y="357.9" x="393.61 555.47 643.76 732.04 761.47 835.05 849.76 952.76 982.19 1026.33 1232.34 1247.05 1320.62 1364.77 1408.91 1497.2 1703.2 1879.77 2012.2 2159.35 2174.06 2277.06 2291.78">CCCCCCCCCCCCCCCCCCCCCCC</text>
<text class="nt bG" transform="scale(.9 1)" y="357.9" x="275.9 305.33 320.04 481.9 673.19 805.62 864.47 879.19 908.62 996.9 1099.91 1114.62 1144.05 1158.76 1173.48 1202.91 1291.19 1305.91 1350.05 1438.34 1541.34 1556.05 1570.77 1600.2 1688.48 1732.63 1776.77 1806.2 1820.91 1865.06 1982.77 2041.63 2203.49 2262.35 2335.92 2350.63">GGGGGGGGGGGGGGGGGGGGGGGGGGGGGGGGGGGG</text>
<text class="nt bT" transform="scale(.9 1)" y="357.9" x="246.47 261.18 290.61 334.76 349.47 364.18 408.33 423.04 437.76 511.33 526.04 614.33 629.04 746.76 776.19 790.9 820.33 893.9 923.33 938.05 1011.62 1041.05 1055.76 1070.48 1085.19 1129.33 1188.19 1217.62 1261.77 1276.48 1335.34 1379.48 1423.62 1453.05 1467.77 1526.62 1585.48 1614.91 1659.05 1717.91 1909.2 1938.63 1997.49 2085.77 2100.49 2129.92 2144.63">TTTTTTTTTTTTTTTTTTTTTTTTTTTTTTTTTTTTTTTTTTTTTTT</text>
<rect x="214" y="366" width="226.33" height="9.8" fill="#d8d8d8"/>
<rect x="2108.95" y="366" width="12" height="9.8" fill="#d8d8d8"/>
<rect x="440.33" y="361" width="1668.62" height="19.85" fill="#00838f"/>
<path d="M480.06 361v19.85M519.79 361v19.85M559.52 361v19.85M599.25 361v19.85M638.98 361v19.85M678.71 361v19.85M718.43 361v19.85M758.16 361v19.85M797.89 361v19.85M837.62 361v19.85M877.35 361v19.85M917.08 361v19.85M956.81 361v19.85M996.54 361v19.85M1036.27 361v19.85M1075.99 361v19.85M1115.72 361v19.85M1155.45 361v19.85M1195.18 361v19.85M1234.91 361v19.85M1274.64 361v19.85M1314.37 361v19.85M1354.1 361v19.85M1393.83 361v19.85M1433.56 361v19.85M1473.28 361v19.85M1513.01 361v19.85M1552.74 361v19.85M1592.47 361v19.85M1632.2 361v19.85M1671.93 361v19.85M1711.66 361v19.85M1751.39 361v19.85M1791.12 361v19.85M1830.85 361v19.85M1870.57 361v19.85M1910.3 361v19.85M1950.03 361v19.85M1989.76 361v19.85M2029.49 361v19.85M2069.22 361v19.85" stroke="#7fc4ca" stroke-width="1.1" fill="none"/>
<text class="aa" y="377.05" x="460.2 499.92 539.65 579.38 619.11 658.84 698.57 738.3 778.03 817.76 857.49 897.21 936.94 976.67 1016.4 1056.13 1095.86 1135.59 1175.32 1215.05 1254.78 1294.5 1334.23 1373.96 1413.69 1453.42 1493.15 1532.88 1572.61 1612.34 1652.07 1691.79 1731.52 1771.25 1810.98 1850.71 1890.44 1930.17 1969.9 2009.63 2049.36 2089.08">ITNSETLVRCSRLLVGVLGCYCYMGVIAEEEAYKSELFQKAK</text>
<rect x="479.46" y="380.7" width="1.2" height="20" fill="#a2a2a2"/>
<text class="rl" text-anchor="end" x="478.86" y="398.8">p.709</text>
<rect x="678.11" y="380.7" width="1.2" height="20" fill="#a2a2a2"/>
<text class="rl" x="682.31" y="398.8">p.715</text>
<rect x="876.75" y="380.7" width="1.2" height="20" fill="#a2a2a2"/>
<text class="rl" x="880.95" y="398.8">p.720</text>
<rect x="1075.39" y="380.7" width="1.2" height="20" fill="#a2a2a2"/>
<text class="rl" x="1079.59" y="398.8">p.725</text>
<rect x="1274.04" y="380.7" width="1.2" height="20" fill="#a2a2a2"/>
<text class="rl" x="1278.24" y="398.8">p.730</text>
<rect x="1472.68" y="380.7" width="1.2" height="20" fill="#a2a2a2"/>
<text class="rl" x="1476.88" y="398.8">p.735</text>
<rect x="1671.33" y="380.7" width="1.2" height="20" fill="#a2a2a2"/>
<text class="rl" x="1675.53" y="398.8">p.740</text>
<rect x="1869.97" y="380.7" width="1.2" height="20" fill="#a2a2a2"/>
<text class="rl" x="1874.17" y="398.8">p.745</text>
<rect x="2068.62" y="380.7" width="1.2" height="20" fill="#a2a2a2"/>
<text class="rl" x="2072.82" y="398.8">p.750</text>
<g transform="translate(228.7 430.4)" class="ic"><circle r="9.1"/>
<path d="M-5 0H5"/>
</g>
<g transform="translate(251.8 430.4)" class="ic"><circle r="9.1"/>
<path d="M0 6V-6M-5.2 -0.8L0 -6L5.2 -0.8"/>
</g>
<g transform="translate(275 430.4)" class="ic"><circle r="9.1"/>
<path d="M0 -6V6M-5.2 0.8L0 6L5.2 0.8"/>
</g>
<text class="tt" x="290.2" y="435.3" textLength="112.2" lengthAdjust="spacing">Public variants</text>
<g transform="translate(2091.9 430.8)" class="ic cl"><circle r="9.2"/><path d="M-4.6 -4.6L4.6 4.6M4.6 -4.6L-4.6 4.6"/></g>
<g fill="#808080"><rect x="229.94" y="448.1" width="11.7" height="19.8" rx="2.6"/><rect x="309.4" y="448.1" width="11.7" height="19.8" rx="2.6"/><rect x="335.89" y="448.1" width="11.7" height="19.8" rx="2.6"/><rect x="388.86" y="448.1" width="11.7" height="19.8" rx="2.6"/><rect x="402.1" y="448.1" width="11.7" height="19.8" rx="2.6"/><rect x="441.83" y="448.1" width="11.7" height="19.8" rx="2.6"/><rect x="468.32" y="448.1" width="11.7" height="19.8" rx="2.6"/><rect x="481.56" y="448.1" width="11.7" height="19.8" rx="2.6"/><rect x="494.8" y="448.1" width="11.7" height="19.8" rx="2.6"/><rect x="521.29" y="448.1" width="11.7" height="19.8" rx="2.6"/><rect x="561.02" y="448.1" width="11.7" height="19.8" rx="2.6"/><rect x="613.99" y="448.1" width="11.7" height="19.8" rx="2.6"/><rect x="653.72" y="448.1" width="11.7" height="19.8" rx="2.6"/><rect x="680.2" y="448.1" width="11.7" height="19.8" rx="2.6"/><rect x="693.45" y="448.1" width="11.7" height="19.8" rx="2.6"/><rect x="733.18" y="448.1" width="11.7" height="19.8" rx="2.6"/><rect x="746.42" y="448.1" width="11.7" height="19.8" rx="2.6"/><rect x="759.66" y="448.1" width="11.7" height="19.8" rx="2.6"/><rect x="772.91" y="448.1" width="11.7" height="19.8" rx="2.6"/><rect x="839.12" y="448.1" width="11.7" height="19.8" rx="2.6"/><rect x="878.85" y="448.1" width="11.7" height="19.8" rx="2.6"/><rect x="892.09" y="448.1" width="11.7" height="19.8" rx="2.6"/><rect x="984.79" y="448.1" width="11.7" height="19.8" rx="2.6"/><rect x="998.04" y="448.1" width="11.7" height="19.8" rx="2.6"/><rect x="1011.28" y="448.1" width="11.7" height="19.8" rx="2.6"/><rect x="1037.77" y="448.1" width="11.7" height="19.8" rx="2.6"/><rect x="1051.01" y="448.1" width="11.7" height="19.8" rx="2.6"/><rect x="1077.5" y="448.1" width="11.7" height="19.8" rx="2.6"/><rect x="1090.74" y="448.1" width="11.7" height="19.8" rx="2.6"/><rect x="1117.22" y="448.1" width="11.7" height="19.8" rx="2.6"/><rect x="1170.2" y="448.1" width="11.7" height="19.8" rx="2.6"/><rect x="1183.44" y="448.1" width="11.7" height="19.8" rx="2.6"/><rect x="1196.68" y="448.1" width="11.7" height="19.8" rx="2.6"/><rect x="1236.41" y="448.1" width="11.7" height="19.8" rx="2.6"/><rect x="1249.65" y="448.1" width="11.7" height="19.8" rx="2.6"/><rect x="1276.14" y="448.1" width="11.7" height="19.8" rx="2.6"/><rect x="1289.38" y="448.1" width="11.7" height="19.8" rx="2.6"/><rect x="1329.11" y="448.1" width="11.7" height="19.8" rx="2.6"/><rect x="1342.36" y="448.1" width="11.7" height="19.8" rx="2.6"/><rect x="1355.6" y="448.1" width="11.7" height="19.8" rx="2.6"/><rect x="1395.33" y="448.1" width="11.7" height="19.8" rx="2.6"/><rect x="1488.03" y="448.1" width="11.7" height="19.8" rx="2.6"/><rect x="1527.76" y="448.1" width="11.7" height="19.8" rx="2.6"/><rect x="1541" y="448.1" width="11.7" height="19.8" rx="2.6"/><rect x="1567.49" y="448.1" width="11.7" height="19.8" rx="2.6"/><rect x="1633.7" y="448.1" width="11.7" height="19.8" rx="2.6"/><rect x="1673.43" y="448.1" width="11.7" height="19.8" rx="2.6"/><rect x="1686.67" y="448.1" width="11.7" height="19.8" rx="2.6"/><rect x="1726.4" y="448.1" width="11.7" height="19.8" rx="2.6"/><rect x="1911.8" y="448.1" width="11.7" height="19.8" rx="2.6"/><rect x="1938.29" y="448.1" width="11.7" height="19.8" rx="2.6"/><rect x="2030.99" y="448.1" width="11.7" height="19.8" rx="2.6"/><rect x="2083.96" y="448.1" width="11.7" height="19.8" rx="2.6"/></g>
<g fill="#66cb98"><rect x="216.7" y="448.1" width="11.7" height="19.8" rx="2.6"/><rect x="786.15" y="448.1" width="11.7" height="19.8" rx="2.6"/><rect x="1024.52" y="448.1" width="11.7" height="19.8" rx="2.6"/><rect x="1103.98" y="448.1" width="11.7" height="19.8" rx="2.6"/><rect x="1223.17" y="448.1" width="11.7" height="19.8" rx="2.6"/><rect x="1262.9" y="448.1" width="11.7" height="19.8" rx="2.6"/><rect x="1302.63" y="448.1" width="11.7" height="19.8" rx="2.6"/><rect x="1580.73" y="448.1" width="11.7" height="19.8" rx="2.6"/><rect x="1620.46" y="448.1" width="11.7" height="19.8" rx="2.6"/><rect x="1699.92" y="448.1" width="11.7" height="19.8" rx="2.6"/><rect x="1739.64" y="448.1" width="11.7" height="19.8" rx="2.6"/><rect x="1819.1" y="448.1" width="11.7" height="19.8" rx="2.6"/><rect x="1872.08" y="448.1" width="11.7" height="19.8" rx="2.6"/></g>
<g fill="#ff7f50"><rect x="415.35" y="448.1" width="11.7" height="19.8" rx="2.6"/><rect x="428.59" y="448.1" width="11.7" height="19.8" rx="2.6"/><rect x="574.26" y="448.1" width="11.7" height="19.8" rx="2.6"/><rect x="2097.21" y="448.1" width="11.7" height="19.8" rx="2.6"/><rect x="2110.45" y="448.1" width="11.7" height="19.8" rx="2.6"/></g>
<text class="vb" transform="scale(.92 1)" y="464.4" x="241.85 256.24 342.61 371.4 428.98 443.37 457.77 472.16 486.56 515.34 529.74 544.13 572.92 616.11 630.5 673.68 716.87 745.66 760.05 803.24 817.63 832.02 846.42 860.81 918.39 961.58 975.97 1076.73 1091.13 1105.52 1119.92 1134.31 1148.71 1177.49 1191.89 1206.28 1220.68 1278.26 1292.65 1307.05 1335.83 1350.23 1364.62 1379.02 1393.41 1407.81 1422.2 1450.99 1465.39 1479.78 1522.96 1623.73 1666.91 1681.3 1710.09 1724.49 1767.67 1782.07 1825.25 1839.64 1854.04 1882.83 1897.22 1983.59 2041.17 2084.35 2113.14 2213.9 2271.48 2285.88 2300.27">C2CT2CCA22G2GGGCTTC32T2CC2AATCTAAAAT2TTATCGTGACT2GACT2GGAA2TGGCGCC2ACAA</text>
<rect x="214" y="484.55" width="1905" height="1.3" fill="#e2e2e2"/>
<rect x="174.87" y="472.2" width="1.2" height="29.3" fill="#a2a2a2"/>
<text class="rl" x="179.87" y="481.6">c.2125-20</text>
<rect x="307.3" y="472.2" width="1.2" height="29.3" fill="#a2a2a2"/>
<text class="rl" x="312.3" y="481.6">c.2125-10</text>
<rect x="439.73" y="472.2" width="1.2" height="29.3" fill="#a2a2a2"/>
<text class="rl" x="444.73" y="481.6">c.2125</text>
<rect x="638.38" y="472.2" width="1.2" height="29.3" fill="#a2a2a2"/>
<text class="rl" x="643.38" y="481.6">c.2140</text>
<rect x="770.81" y="472.2" width="1.2" height="29.3" fill="#a2a2a2"/>
<text class="rl" x="775.81" y="481.6">c.2150</text>
<rect x="903.24" y="472.2" width="1.2" height="29.3" fill="#a2a2a2"/>
<text class="rl" x="908.24" y="481.6">c.2160</text>
<rect x="1035.67" y="472.2" width="1.2" height="29.3" fill="#a2a2a2"/>
<text class="rl" x="1040.67" y="481.6">c.2170</text>
<rect x="1168.1" y="472.2" width="1.2" height="29.3" fill="#a2a2a2"/>
<text class="rl" x="1173.1" y="481.6">c.2180</text>
<rect x="1300.53" y="472.2" width="1.2" height="29.3" fill="#a2a2a2"/>
<text class="rl" x="1305.53" y="481.6">c.2190</text>
<rect x="1432.96" y="472.2" width="1.2" height="29.3" fill="#a2a2a2"/>
<text class="rl" x="1437.96" y="481.6">c.2200</text>
<rect x="1565.39" y="472.2" width="1.2" height="29.3" fill="#a2a2a2"/>
<text class="rl" x="1570.39" y="481.6">c.2210</text>
<rect x="1697.82" y="472.2" width="1.2" height="29.3" fill="#a2a2a2"/>
<text class="rl" x="1702.82" y="481.6">c.2220</text>
<rect x="1830.25" y="472.2" width="1.2" height="29.3" fill="#a2a2a2"/>
<text class="rl" x="1835.25" y="481.6">c.2230</text>
<rect x="1962.68" y="472.2" width="1.2" height="29.3" fill="#a2a2a2"/>
<text class="rl" x="1967.68" y="481.6">c.2240</text>
<rect x="2108.35" y="472.2" width="1.2" height="29.3" fill="#a2a2a2"/>
<text class="rl" text-anchor="end" x="2107.45" y="481.6">c.2250</text>
<text class="nt bA" transform="scale(.9 1)" y="498.9" x="378.9 452.47 467.19 496.61 540.76 570.19 584.9 599.61 658.47 687.9 702.62 717.33 967.48 1394.19 1482.48 1511.91 1629.63 1644.34 1673.77 1747.34 1762.06 1791.49 1835.63 1850.34 1894.49 1923.91 1953.34 1968.06 2026.92 2056.35 2071.06 2115.2 2188.78 2218.2 2232.92 2247.63 2306.49 2321.21">AAAAAAAAAAAAAAAAAAAAAAAAAAAAAAAAAAAAAA</text>
<text class="nt bC" transform="scale(.9 1)" y="498.9" x="393.61 555.47 643.76 732.04 761.47 835.05 849.76 952.76 982.19 1026.33 1232.34 1247.05 1320.62 1364.77 1408.91 1497.2 1703.2 1879.77 2012.2 2159.35 2174.06 2277.06 2291.78">CCCCCCCCCCCCCCCCCCCCCCC</text>
<text class="nt bG" transform="scale(.9 1)" y="498.9" x="275.9 305.33 320.04 481.9 673.19 805.62 864.47 879.19 908.62 996.9 1099.91 1114.62 1144.05 1158.76 1173.48 1202.91 1291.19 1305.91 1350.05 1438.34 1541.34 1556.05 1570.77 1600.2 1688.48 1732.63 1776.77 1806.2 1820.91 1865.06 1982.77 2041.63 2203.49 2262.35 2335.92 2350.63">GGGGGGGGGGGGGGGGGGGGGGGGGGGGGGGGGGGG</text>
<text class="nt bT" transform="scale(.9 1)" y="498.9" x="246.47 261.18 290.61 334.76 349.47 364.18 408.33 423.04 437.76 511.33 526.04 614.33 629.04 746.76 776.19 790.9 820.33 893.9 923.33 938.05 1011.62 1041.05 1055.76 1070.48 1085.19 1129.33 1188.19 1217.62 1261.77 1276.48 1335.34 1379.48 1423.62 1453.05 1467.77 1526.62 1585.48 1614.91 1659.05 1717.91 1909.2 1938.63 1997.49 2085.77 2100.49 2129.92 2144.63">TTTTTTTTTTTTTTTTTTTTTTTTTTTTTTTTTTTTTTTTTTTTTTT</text>
<rect x="214" y="507" width="226.33" height="9.8" fill="#d8d8d8"/>
<rect x="2108.95" y="507" width="12" height="9.8" fill="#d8d8d8"/>
<rect x="440.33" y="502" width="1668.62" height="19.85" fill="#00838f"/>
<path d="M480.06 502v19.85M519.79 502v19.85M559.52 502v19.85M599.25 502v19.85M638.98 502v19.85M678.71 502v19.85M718.43 502v19.85M758.16 502v19.85M797.89 502v19.85M837.62 502v19.85M877.35 502v19.85M917.08 502v19.85M956.81 502v19.85M996.54 502v19.85M1036.27 502v19.85M1075.99 502v19.85M1115.72 502v19.85M1155.45 502v19.85M1195.18 502v19.85M1234.91 502v19.85M1274.64 502v19.85M1314.37 502v19.85M1354.1 502v19.85M1393.83 502v19.85M1433.56 502v19.85M1473.28 502v19.85M1513.01 502v19.85M1552.74 502v19.85M1592.47 502v19.85M1632.2 502v19.85M1671.93 502v19.85M1711.66 502v19.85M1751.39 502v19.85M1791.12 502v19.85M1830.85 502v19.85M1870.57 502v19.85M1910.3 502v19.85M1950.03 502v19.85M1989.76 502v19.85M2029.49 502v19.85M2069.22 502v19.85" stroke="#7fc4ca" stroke-width="1.1" fill="none"/>
<text class="aa" y="518.05" x="460.2 499.92 539.65 579.38 619.11 658.84 698.57 738.3 778.03 817.76 857.49 897.21 936.94 976.67 1016.4 1056.13 1095.86 1135.59 1175.32 1215.05 1254.78 1294.5 1334.23 1373.96 1413.69 1453.42 1493.15 1532.88 1572.61 1612.34 1652.07 1691.79 1731.52 1771.25 1810.98 1850.71 1890.44 1930.17 1969.9 2009.63 2049.36 2089.08">ITNSETLVRCSRLLVGVLGCYCYMGVIAEEEAYKSELFQKAK</text>
<rect x="479.46" y="521.7" width="1.2" height="20" fill="#a2a2a2"/>
<text class="rl" text-anchor="end" x="478.86" y="539.8">p.709</text>
<rect x="678.11" y="521.7" width="1.2" height="20" fill="#a2a2a2"/>
<text class="rl" x="682.31" y="539.8">p.715</text>
<rect x="876.75" y="521.7" width="1.2" height="20" fill="#a2a2a2"/>
<text class="rl" x="880.95" y="539.8">p.720</text>
<rect x="1075.39" y="521.7" width="1.2" height="20" fill="#a2a2a2"/>
<text class="rl" x="1079.59" y="539.8">p.725</text>
<rect x="1274.04" y="521.7" width="1.2" height="20" fill="#a2a2a2"/>
<text class="rl" x="1278.24" y="539.8">p.730</text>
<rect x="1472.68" y="521.7" width="1.2" height="20" fill="#a2a2a2"/>
<text class="rl" x="1476.88" y="539.8">p.735</text>
<rect x="1671.33" y="521.7" width="1.2" height="20" fill="#a2a2a2"/>
<text class="rl" x="1675.53" y="539.8">p.740</text>
<rect x="1869.97" y="521.7" width="1.2" height="20" fill="#a2a2a2"/>
<text class="rl" x="1874.17" y="539.8">p.745</text>
<rect x="2068.62" y="521.7" width="1.2" height="20" fill="#a2a2a2"/>
<text class="rl" x="2072.82" y="539.8">p.750</text>
<path d="M513.19 552L519.79 540.3L526.39 552Z" fill="#808080"/>
<path d="M936.97 552L943.57 540.3L950.17 552Z" fill="#808080"/>
<path d="M1334.26 552L1340.86 540.3L1347.45 552Z" fill="#808080"/>
<path d="M1373.98 552L1380.58 540.3L1387.18 552Z" fill="#808080"/>
<path d="M1426.96 552L1433.56 540.3L1440.16 552Z" fill="#808080"/>
<path d="M1466.69 552L1473.29 540.3L1479.88 552Z" fill="#808080"/>
<rect x="241.69" y="563.3" width="264.86" height="3.7" fill="#ff7f50"/>
<rect x="268.17" y="558" width="26.49" height="3.7" fill="#66cb98"/>
<rect x="294.66" y="568.2" width="79.46" height="3.7" fill="#66cb98"/>
<rect x="970.05" y="558" width="105.94" height="3.7" fill="#ff7f50"/>
<rect x="1102.48" y="563.3" width="26.49" height="3.7" fill="#808080"/>
<g transform="translate(228.7 596.5)" class="ic"><circle r="9.1"/>
<path d="M-5 0H5"/>
</g>
<g transform="translate(251.8 596.5)" class="ic"><circle r="9.1"/>
<path d="M0 6V-6M-5.2 -0.8L0 -6L5.2 -0.8"/>
</g>
<g transform="translate(275 596.5)" class="ic"><circle r="9.1"/>
<path d="M0 -6V6M-5.2 0.8L0 6L5.2 0.8"/>
</g>
<text class="tt" x="290.2" y="601.4" textLength="60.1" lengthAdjust="spacing">Splicing</text>
<g transform="translate(2091.9 596.9)" class="ic cl"><circle r="9.2"/><path d="M-4.6 -4.6L4.6 4.6M4.6 -4.6L-4.6 4.6"/></g>
<text class="gl" x="222.2" y="655.9" textLength="67" lengthAdjust="spacingAndGlyphs">Predicted</text>
<text class="gl" x="222.2" y="701.8" textLength="66.6" lengthAdjust="spacingAndGlyphs">Observed</text>
<text class="nt bA" transform="scale(.9 1)" y="683.2" x="378.9 452.47 467.19 496.61 540.76 570.19 584.9 599.61 658.47 687.9 702.62 717.33 967.48 1394.19 1482.48 1511.91 1629.63 1644.34 1673.77 1747.34 1762.06 1791.49 1835.63 1850.34 1894.49 1923.91 1953.34 1968.06 2026.92 2056.35 2071.06 2115.2 2188.78 2218.2 2232.92 2247.63 2306.49 2321.21">AAAAAAAAAAAAAAAAAAAAAAAAAAAAAAAAAAAAAA</text>
<text class="nt bC" transform="scale(.9 1)" y="683.2" x="393.61 555.47 643.76 732.04 761.47 835.05 849.76 952.76 982.19 1026.33 1232.34 1247.05 1320.62 1364.77 1408.91 1497.2 1703.2 1879.77 2012.2 2159.35 2174.06 2277.06 2291.78">CCCCCCCCCCCCCCCCCCCCCCC</text>
<text class="nt bG" transform="scale(.9 1)" y="683.2" x="275.9 305.33 320.04 481.9 673.19 805.62 864.47 879.19 908.62 996.9 1099.91 1114.62 1144.05 1158.76 1173.48 1202.91 1291.19 1305.91 1350.05 1438.34 1541.34 1556.05 1570.77 1600.2 1688.48 1732.63 1776.77 1806.2 1820.91 1865.06 1982.77 2041.63 2203.49 2262.35 2335.92 2350.63">GGGGGGGGGGGGGGGGGGGGGGGGGGGGGGGGGGGG</text>
<text class="nt bT" transform="scale(.9 1)" y="683.2" x="246.47 261.18 290.61 334.76 349.47 364.18 408.33 423.04 437.76 511.33 526.04 614.33 629.04 746.76 776.19 790.9 820.33 893.9 923.33 938.05 1011.62 1041.05 1055.76 1070.48 1085.19 1129.33 1188.19 1217.62 1261.77 1276.48 1335.34 1379.48 1423.62 1453.05 1467.77 1526.62 1585.48 1614.91 1659.05 1717.91 1909.2 1938.63 1997.49 2085.77 2100.49 2129.92 2144.63">TTTTTTTTTTTTTTTTTTTTTTTTTTTTTTTTTTTTTTTTTTTTTTT</text>
<rect x="611.49" y="651.4" width="2" height="17.6" fill="#3cb764"/><circle cx="612.49" cy="651.4" r="5" fill="#3cb764"/>
<rect x="717.43" y="649.6" width="2" height="19.4" fill="#2f559b"/><circle cx="718.43" cy="649.6" r="5" fill="#2f559b"/>
<rect x="783.65" y="646.9" width="2" height="22.1" fill="#2f559b"/><circle cx="784.65" cy="646.9" r="5" fill="#2f559b"/>
<rect x="810.13" y="655.5" width="2" height="13.5" fill="#2f559b"/><circle cx="811.13" cy="655.5" r="5" fill="#2f559b"/>
<rect x="889.59" y="648.5" width="2" height="20.5" fill="#2f559b"/><circle cx="890.59" cy="648.5" r="5" fill="#2f559b"/>
<rect x="995.54" y="642.2" width="2" height="26.8" fill="#2f559b"/><circle cx="996.54" cy="642.2" r="5" fill="#2f559b"/>
<rect x="1048.51" y="648" width="2" height="21" fill="#2f559b"/><circle cx="1049.51" cy="648" r="5" fill="#2f559b"/>
<rect x="1075" y="652.8" width="2" height="16.2" fill="#2f559b"/><circle cx="1076" cy="652.8" r="5" fill="#2f559b"/>
<rect x="1286.88" y="651.9" width="2" height="17.1" fill="#2f559b"/><circle cx="1287.88" cy="651.9" r="5" fill="#2f559b"/>
<rect x="1406.07" y="648.3" width="2" height="20.7" fill="#2f559b"/><circle cx="1407.07" cy="648.3" r="5" fill="#2f559b"/>
<rect x="1432.56" y="647.4" width="2" height="21.6" fill="#2f559b"/><circle cx="1433.56" cy="647.4" r="5" fill="#2f559b"/>
<rect x="1525.26" y="648.3" width="2" height="20.7" fill="#3cb764"/><circle cx="1526.26" cy="648.3" r="5" fill="#3cb764"/>
<rect x="1604.72" y="652.5" width="2" height="16.5" fill="#3cb764"/><circle cx="1605.72" cy="652.5" r="5" fill="#3cb764"/>
<rect x="1631.2" y="648.5" width="2" height="20.5" fill="#3cb764"/><circle cx="1632.2" cy="648.5" r="5" fill="#3cb764"/>
<rect x="1684.17" y="657.1" width="2" height="11.9" fill="#3cb764"/><circle cx="1685.17" cy="657.1" r="5" fill="#3cb764"/>
<rect x="1776.87" y="646" width="2" height="23" fill="#2f559b"/><circle cx="1777.87" cy="646" r="5" fill="#2f559b"/>
<rect x="1790.12" y="657.6" width="2" height="11.4" fill="#3cb764"/><circle cx="1791.12" cy="657.6" r="5" fill="#3cb764"/>
<rect x="1843.09" y="655" width="2" height="14" fill="#3cb764"/><circle cx="1844.09" cy="655" r="5" fill="#3cb764"/>
<rect x="1988.76" y="651.3" width="2" height="17.7" fill="#3cb764"/><circle cx="1989.76" cy="651.3" r="5" fill="#3cb764"/>
<rect x="2041.73" y="649" width="2" height="20" fill="#3cb764"/><circle cx="2042.73" cy="649" r="5" fill="#3cb764"/>
<rect x="2107.95" y="653.2" width="2" height="15.8" fill="#3cb764"/><circle cx="2108.95" cy="653.2" r="5" fill="#3cb764"/>
<rect x="214" y="668.2" width="1905" height="1.6" fill="#7d7d7d"/>
<rect x="438.83" y="644.2" width="3" height="52" fill="#3cb764"/><circle cx="440.33" cy="644.2" r="5.2" fill="#3cb764"/><circle cx="440.33" cy="696" r="5.2" fill="#3cb764"/>
<rect x="2107.65" y="626.2" width="2.6" height="70" fill="#2f559b"/><circle cx="2108.95" cy="626.2" r="5" fill="#2f559b"/><circle cx="2108.95" cy="696.3" r="5" fill="#2f559b"/>
<g transform="translate(228.7 737.9)" class="ic"><circle r="9.1"/>
<path d="M-5 0H5"/>
</g>
<g transform="translate(251.8 737.9)" class="ic"><circle r="9.1"/>
<path d="M0 6V-6M-5.2 -0.8L0 -6L5.2 -0.8"/>
</g>
<g transform="translate(275 737.9)" class="ic"><circle r="9.1"/>
<path d="M0 -6V6M-5.2 0.8L0 6L5.2 0.8"/>
</g>
<text class="tt" x="290.2" y="742.8" textLength="75.1" lengthAdjust="spacing">Orthologs</text>
<g transform="translate(2091.9 738.3)" class="ic cl"><circle r="9.2"/><path d="M-4.6 -4.6L4.6 4.6M4.6 -4.6L-4.6 4.6"/></g>
<text class="sm" x="219.3" y="766.9" textLength="117.4" lengthAdjust="spacingAndGlyphs">Conservation over</text>
<text class="sm" x="223.6" y="782.9" textLength="77" lengthAdjust="spacingAndGlyphs">134 species</text>
<path fill="#2f559b" d="M487.76 765.8h24.6v31h-24.6zM606.95 761.8h24.6v35h-24.6zM686.41 761.3h24.6v35.5h-24.6zM726.13 763h24.6v33.8h-24.6zM765.86 763h24.6v33.8h-24.6zM805.59 760.1h24.6v36.7h-24.6zM924.78 764.2h24.6v32.6h-24.6zM964.51 760.1h24.6v36.7h-24.6zM1043.97 760.1h24.6v36.7h-24.6zM1083.69 759h24.6v37.8h-24.6zM1123.42 758.5h24.6v38.3h-24.6zM1242.61 763h24.6v33.8h-24.6zM1401.53 761h24.6v35.8h-24.6zM1560.44 760.1h24.6v36.7h-24.6zM1600.17 763h24.6v33.8h-24.6zM1679.63 760.4h24.6v36.4h-24.6zM1798.82 760.4h24.6v36.4h-24.6zM1878.27 759.2h24.6v37.6h-24.6zM1918 760.4h24.6v36.4h-24.6zM1997.46 760.4h24.6v36.4h-24.6zM2037.19 759.2h24.6v37.6h-24.6zM2076.92 759.2h24.6v37.6h-24.6z"/>
<path fill="#6585be" d="M448.03 782.8h24.6v14h-24.6zM527.49 778.8h24.6v18h-24.6zM567.22 778.8h24.6v18h-24.6zM646.68 780.4h24.6v16.4h-24.6zM845.32 772h24.6v24.8h-24.6zM1004.24 772h24.6v24.8h-24.6zM1163.15 769.1h24.6v27.7h-24.6zM1202.88 770.2h24.6v26.6h-24.6zM1282.34 772h24.6v24.8h-24.6zM1322.07 773.2h24.6v23.6h-24.6zM1441.26 777h24.6v19.8h-24.6zM1480.98 775h24.6v21.8h-24.6zM1639.9 767.6h24.6v29.2h-24.6zM1719.36 778h24.6v18.8h-24.6zM1759.09 774.3h24.6v22.5h-24.6zM1838.55 773.4h24.6v23.4h-24.6zM1957.73 770.3h24.6v26.5h-24.6z"/>
<path fill="#a6b9dd" d="M885.05 793h24.6v3.8h-24.6zM1361.8 786h24.6v10.8h-24.6zM1520.71 784h24.6v12.8h-24.6z"/>
<rect x="519.79" y="817.1" width="39.93" height="18.35" fill="#f4da7e"/>
<rect x="519.79" y="853.1" width="39.93" height="18.35" fill="#f4da7e"/>
<rect x="877.35" y="853.1" width="39.93" height="18.35" fill="#f4da7e"/>
<rect x="1354.1" y="853.1" width="39.93" height="18.35" fill="#f4da7e"/>
<rect x="1711.66" y="853.1" width="39.93" height="18.35" fill="#f4da7e"/>
<rect x="877.35" y="871.1" width="39.93" height="18.35" fill="#f4da7e"/>
<rect x="1711.66" y="871.1" width="39.93" height="18.35" fill="#f4da7e"/>
<rect x="440.33" y="889.1" width="39.93" height="18.35" fill="#f4da7e"/>
<rect x="480.06" y="889.1" width="39.93" height="18.35" fill="#f4da7e"/>
<rect x="638.98" y="889.1" width="39.93" height="18.35" fill="#f4da7e"/>
<rect x="678.71" y="889.1" width="39.93" height="18.35" fill="#f4da7e"/>
<rect x="877.35" y="889.1" width="39.93" height="18.35" fill="#f4da7e"/>
<rect x="1354.1" y="889.1" width="39.93" height="18.35" fill="#f4da7e"/>
<text class="sm" x="219.3" y="811" textLength="101.7" lengthAdjust="spacingAndGlyphs">Pan troglodytes</text>
<text class="oa" y="812.8" x="460.2 499.92 539.65 579.38 619.11 658.84 698.57 738.3 778.03 817.76 857.49 897.21 936.94 976.67 1016.4 1056.13 1095.86 1135.59 1175.32 1215.05 1254.78 1294.5 1334.23 1373.96 1413.69 1453.42 1493.15 1532.88 1572.61 1612.34 1652.07 1691.79 1731.52 1771.25 1810.98 1850.71 1890.44 1930.17 1969.9 2009.63 2049.36 2089.08">ITNSETLVRCSRLLVGVLGCYCYMGVIAEEEAYKSELFQKAK</text>
<text class="sm" x="219.3" y="829" textLength="147.5" lengthAdjust="spacingAndGlyphs">Nomascus leucogenys</text>
<text class="oa" y="830.8" x="460.2 499.92 539.65 579.38 619.11 658.84 698.57 738.3 778.03 817.76 857.49 897.21 936.94 976.67 1016.4 1056.13 1095.86 1135.59 1175.32 1215.05 1254.78 1294.5 1334.23 1373.96 1413.69 1453.42 1493.15 1532.88 1572.61 1612.34 1652.07 1691.79 1731.52 1771.25 1810.98 1850.71 1890.44 1930.17 1969.9 2009.63 2049.36 2089.08">ITDSETLVRCSRLLVGVLGCYCYMGVIAEEEAYKSELFQKAK</text>
<text class="sm" x="219.3" y="847" textLength="85" lengthAdjust="spacingAndGlyphs">Gorilla gorilla</text>
<text class="oa" y="848.8" x="460.2 499.92 539.65 579.38 619.11 658.84 698.57 738.3 778.03 817.76 857.49 897.21 936.94 976.67 1016.4 1056.13 1095.86 1135.59 1175.32 1215.05 1254.78 1294.5 1334.23 1373.96 1413.69 1453.42 1493.15 1532.88 1572.61 1612.34 1652.07 1691.79 1731.52 1771.25 1810.98 1850.71 1890.44 1930.17 1969.9 2009.63 2049.36 2089.08">ITNSETLVRCSRLLVGVLGCYCYMGVIAEEEAYKSELFQKAK</text>
<text class="sm" x="219.3" y="865" textLength="83.7" lengthAdjust="spacingAndGlyphs">Papio anubis</text>
<text class="oa" y="866.8" x="460.2 499.92 539.65 579.38 619.11 658.84 698.57 738.3 778.03 817.76 857.49 897.21 936.94 976.67 1016.4 1056.13 1095.86 1135.59 1175.32 1215.05 1254.78 1294.5 1334.23 1373.96 1413.69 1453.42 1493.15 1532.88 1572.61 1612.34 1652.07 1691.79 1731.52 1771.25 1810.98 1850.71 1890.44 1930.17 1969.9 2009.63 2049.36 2089.08">ITDSETLVRCSSLLVGVLGCYCYIGVIAEEEACKSELFQKAK</text>
<text class="sm" x="219.3" y="883" textLength="105" lengthAdjust="spacingAndGlyphs">Macaca mulatta</text>
<text class="oa" y="884.8" x="460.2 499.92 539.65 579.38 619.11 658.84 698.57 738.3 778.03 817.76 857.49 897.21 936.94 976.67 1016.4 1056.13 1095.86 1135.59 1175.32 1215.05 1254.78 1294.5 1334.23 1373.96 1413.69 1453.42 1493.15 1532.88 1572.61 1612.34 1652.07 1691.79 1731.52 1771.25 1810.98 1850.71 1890.44 1930.17 1969.9 2009.63 2049.36 2089.08">ITNSETLVRCSSLLVGVLGCYCYMGVIAEEEACKSELFQKAK</text>
<text class="sm" x="219.3" y="901" textLength="69.5" lengthAdjust="spacingAndGlyphs">Bos taurus</text>
<text class="oa" y="902.8" x="460.2 499.92 539.65 579.38 619.11 658.84 698.57 738.3 778.03 817.76 857.49 897.21 936.94 976.67 1016.4 1056.13 1095.86 1135.59 1175.32 1215.05 1254.78 1294.5 1334.23 1373.96 1413.69 1453.42 1493.15 1532.88 1572.61 1612.34 1652.07 1691.79 1731.52 1771.25 1810.98 1850.71 1890.44 1930.17 1969.9 2009.63 2049.36 2089.08">TSNSEMFVRCSSLLVGVLGCYCYLGVIAEEEAYKSELFQKAK</text>
<rect x="718.43" y="907.1" width="1390.51" height="2" fill="#f4da7e"/>
</svg></div>
<div id="sb"><i></i></div>
<svg id="help" width="36" height="36" viewBox="0 0 36 36" style="left:2073.9px;top:868.9px;"><mask id="qm"><rect width="36" height="36" fill="#fff"/><text x="18" y="29.6" font-size="33" font-weight="bold" text-anchor="middle" fill="#000">?</text></mask><circle cx="18" cy="18" r="17.5" fill="#2f559b" mask="url(#qm)"/></svg>
</body></html>
